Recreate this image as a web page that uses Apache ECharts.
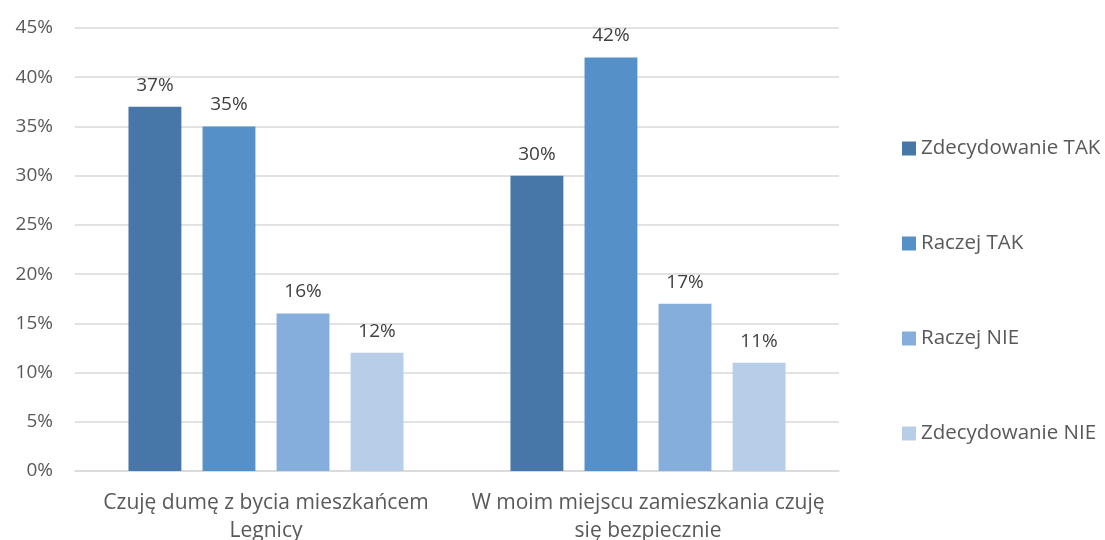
<!DOCTYPE html>
<html><head><meta charset="utf-8">
<script src="https://cdn.jsdelivr.net/npm/echarts@6/dist/echarts.min.js"></script>
<style>html,body{margin:0;padding:0;background:#fff}#c{width:1105px;height:540px}</style>
</head><body><div id="c"></div>
<script>
const categories = ["Czuję dumę z bycia mieszkańcem\nLegnicy", "W moim miejscu zamieszkania czuję\nsię bezpiecznie"];
const seriesNames = ["Zdecydowanie TAK", "Raczej TAK", "Raczej NIE", "Zdecydowanie NIE"];
const zdecydowanieTak = [37, 30];
const raczejTak = [35, 42];
const raczejNie = [16, 17];
const zdecydowanieNie = [12, 11];
const colors = ["#4677A8", "#5591C8", "#86AEDC", "#B8CDE8"];
const values = [zdecydowanieTak, raczejTak, raczejNie, zdecydowanieNie];
const font = "'Open Sans', sans-serif";
const chart = echarts.init(document.getElementById('c'));
chart.setOption({
  animation: false,
  textStyle: {fontFamily: font},
  grid: {left: 75, right: 266, top: 28, bottom: 69, outerBoundsMode: 'none', containLabel: false},
  legend: {
    orient: 'vertical', left: 902, top: 138, padding: 0, itemWidth: 14, itemHeight: 14, itemGap: 74,
    icon: 'rect', itemStyle: {borderWidth: 0},
    textStyle: {fontSize: 20.5, color: '#595959', fontFamily: font, padding: [0, 0, 0, 0]},
    data: seriesNames
  },
  xAxis: {
    type: 'category', data: categories,
    axisLine: {lineStyle: {color: '#D9D9D9', width: 1.5}},
    axisTick: {show: false},
    axisLabel: {interval: 0, fontSize: 21, color: '#595959', lineHeight: 28, margin: 18, fontFamily: font}
  },
  yAxis: {
    type: 'value', min: 0, max: 45, interval: 5,
    axisLine: {show: false}, axisTick: {show: false},
    splitLine: {lineStyle: {color: '#D9D9D9', width: 1.5}},
    axisLabel: {fontSize: 19, color: '#595959', formatter: '{value}%', margin: 22, fontFamily: font}
  },
  series: seriesNames.map((n, i) => ({
    name: n, type: 'bar', data: values[i],
    barGap: '40%', barCategoryGap: '28%',
    itemStyle: {color: colors[i]},
    label: {show: true, position: 'top', distance: 12, formatter: '{c}%', fontSize: 19, color: '#404040', fontFamily: font}
  }))
});
</script></body></html>
